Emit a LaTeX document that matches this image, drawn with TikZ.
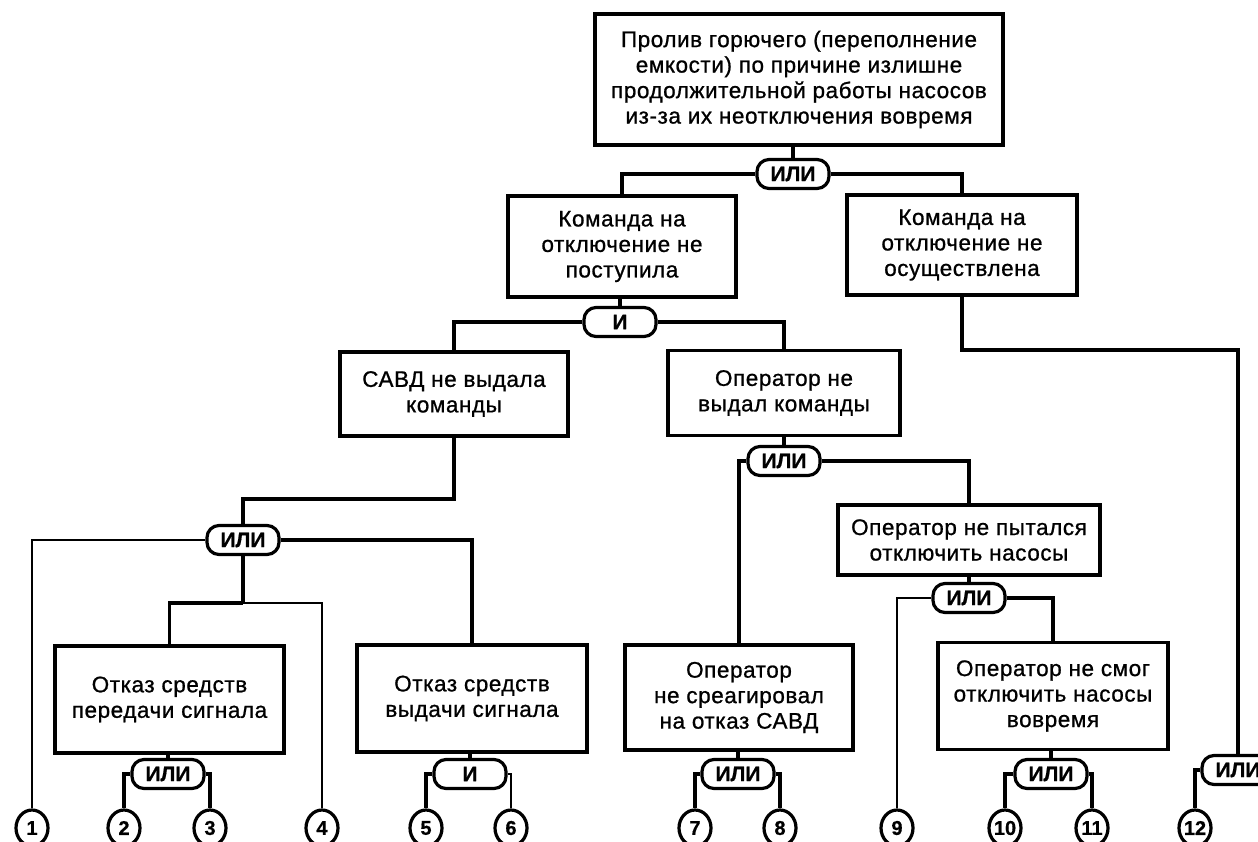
\documentclass[tikz,border=0pt]{standalone}
\usepackage{fontspec}
\setmainfont{Liberation Sans}
\newfontfamily\boxfont{Liberation Sans}[FakeBold=0.9, LetterSpace=2.5]
\newfontfamily\gatefont{Liberation Sans Bold}[FakeBold=0.6]
\usetikzlibrary{shapes.geometric}
\begin{document}
\begin{tikzpicture}[x=1pt,y=-1pt,
  box/.style={draw, line width=3.4pt, align=center, inner sep=0pt,
    font=\boxfont\fontsize{22.5}{25.5}\selectfont},
  gate/.style={draw, line width=3.2pt, rounded corners=12pt, minimum width=72pt,
    minimum height=29pt, inner sep=0pt, font=\gatefont\fontsize{21}{21}\selectfont},
  ev/.style={draw, ellipse, line width=3.2pt, minimum width=32pt, minimum height=36pt,
    inner sep=0pt, font=\gatefont\fontsize{20}{20}\selectfont},
  ln/.style={line width=3.2pt},
  thinln/.style={line width=2.7pt}]
\useasboundingbox (0,0) rectangle (1258,841);
% boxes
\node[box, minimum width=408pt, minimum height=131pt] (T) at (799,79.5)
  {Пролив горючего (переполнение\\емкости) по причине излишне\\продолжительной работы насосов\\из-за их неотключения вовремя};
\node[box, minimum width=228pt, minimum height=101pt] (A) at (622,246.5)
  {Команда на\\отключение не\\поступила};
\node[box, minimum width=230pt, minimum height=100pt] (B) at (962,245)
  {Команда на\\отключение не\\осуществлена};
\node[box, minimum width=228pt, minimum height=84pt] (C) at (454,394)
  {САВД не выдала\\команды};
\node[box, minimum width=232pt, minimum height=85pt] (D) at (784,393)
  {Оператор не\\выдал команды};
\node[box, minimum width=229pt, minimum height=107pt] (E) at (169.5,699.5)
  {Отказ средств\\передачи сигнала};
\node[box, minimum width=230pt, minimum height=107pt] (F) at (472,698.5)
  {Отказ средств\\выдачи сигнала};
\node[box, minimum width=228pt, minimum height=105pt] (G) at (739,697.5)
  {Оператор\\не среагировал\\на отказ САВД};
\node[box, minimum width=262pt, minimum height=70pt] (H) at (969,540)
  {Оператор не пытался\\отключить насосы};
\node[box, minimum width=230pt, minimum height=107pt] (I) at (1053,696)
  {Оператор не смог\\отключить насосы\\вовремя};
% gates
\node[gate] (G1) at (793,174) {ИЛИ};
\node[gate] (G2) at (620,322) {И};
\node[gate] (G3) at (243,540) {ИЛИ};
\node[gate] (G4) at (168,774) {ИЛИ};
\node[gate] (G5) at (470,774) {И};
\node[gate] (G6) at (784,461) {ИЛИ};
\node[gate] (G7) at (738,774) {ИЛИ};
\node[gate] (G10) at (969,598) {ИЛИ};
\node[gate] (G8) at (1051,774) {ИЛИ};
\node[gate] (G9) at (1238,770) {ИЛИ};
% events
\node[ev] (c1) at (32,828) {1};
\node[ev] (c2) at (124,828) {2};
\node[ev] (c3) at (210,828) {3};
\node[ev] (c4) at (322,828) {4};
\node[ev] (c5) at (426,828) {5};
\node[ev] (c6) at (511,828) {6};
\node[ev] (c7) at (695,828) {7};
\node[ev] (c8) at (780,828) {8};
\node[ev] (c9) at (897,828) {9};
\node[ev] (c10) at (1005,828) {10};
\node[ev] (c11) at (1092,828) {11};
\node[ev] (c12) at (1195,828) {12};
% junctions
\coordinate (j1) at (243,499);
\coordinate (j2) at (243,603);
\coordinate (j3) at (1238,350);
% connectors
\draw[ln] (G1.north) -- (G1.north |- T.south);
\draw[ln] (G1.west) -| (A.north);
\draw[ln] (G1.east) -| (B.north);
\draw[ln] (G2.north) -- (G2.north |- A.south);
\draw[ln] (G2.west) -| (C.north);
\draw[ln] (G2.east) -| (D.north);
\draw[ln] (C.south) |- (j1) -- (G3.north);
\draw[thinln] (G3.west) -| (c1.north);
\draw[ln] (G3.east) -| (F.north);
\draw[ln] (G3.south) -- (j2);
\draw[ln] (E.north) |- (j2);
\draw[thinln] (c4.north) |- (j2);
\draw[ln] (G4.north) -- (G4.north |- E.south);
\draw[ln] (G5.north) -- (G5.north |- F.south);
\draw[ln] (G4.west) -| (c2.north);
\draw[ln] (G4.east) -| (c3.north);
\draw[ln] (G5.west) -| (c5.north);
\draw[thinln] (G5.east) -| (c6.north);
\draw[ln] (G6.north) -- (G6.north |- D.south);
\draw[ln] (G6.west) -| (G.north);
\draw[ln] (G6.east) -| (H.north);
\draw[ln] (G7.north) -- (G7.north |- G.south);
\draw[ln] (G7.west) -| (c7.north);
\draw[ln] (G7.east) -| (c8.north);
\draw[ln] (G10.north) -- (G10.north |- H.south);
\draw[thinln] (G10.west) -| (c9.north);
\draw[ln] (G10.east) -| (I.north);
\draw[ln] (G8.north) -- (G8.north |- I.south);
\draw[ln] (G8.west) -| (c10.north);
\draw[ln] (G8.east) -| (c11.north);
\draw[ln] (B.south) |- (j3) -- (G9.north);
\draw[ln] (G9.west) -| (c12.north);
\end{tikzpicture}
\end{document}
